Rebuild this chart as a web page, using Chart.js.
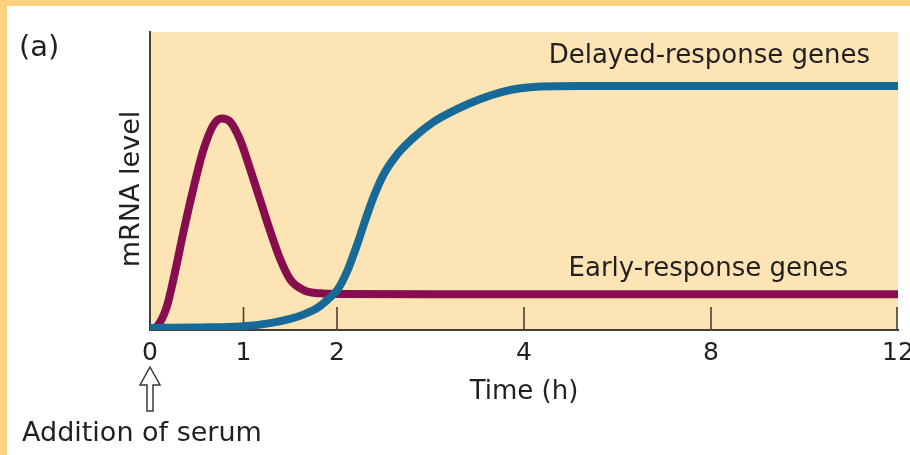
<!DOCTYPE html>
<html>
<head>
<meta charset="utf-8">
<title>mRNA level after serum addition</title>
<script src="https://cdn.jsdelivr.net/npm/chart.js@4.4.1/dist/chart.umd.min.js"></script>
<style>
  html, body { margin: 0; padding: 0; background: #fff; }
  #wrap { width: 910px; height: 455px; }
</style>
</head>
<body>
<div id="wrap"><canvas id="chart" width="910" height="455"></canvas></div>
<script>
// hours shown under the time axis (linear to 4 h, then 2 h per unit)
var tickHours = [0, 1, 2, 4, 8, 12];

// early-response genes: fast spike, then low steady level
var earlyHours = [0, 0.072, 0.179, 0.268, 0.357, 0.464, 0.571, 0.678, 0.768, 0.857, 0.964, 1.071, 1.178, 1.285, 1.392, 1.499, 1.642, 1.821, 2.035, 3, 4, 8, 12];
var earlyLevel = [0.3, 1.1, 7.8, 19.5, 32.8, 47.5, 60.4, 68.8, 71.0, 69.9, 63.8, 54.0, 43.6, 33.2, 23.8, 17.0, 13.4, 12.3, 12.1, 12, 12, 12, 12];

// delayed-response genes: slow start, sigmoid rise after ~2 h
var delayedHours = [0, 0.535, 0.964, 1.285, 1.499, 1.66, 1.789, 1.896, 2.003, 2.11, 2.217, 2.303, 2.388, 2.495, 2.645, 2.817, 3.031, 3.288, 3.534, 3.78, 3.963, 4.35, 5.21, 8, 12];
var delayedLevel = [0.7, 0.85, 1.2, 2.3, 3.7, 5.4, 7.4, 10.1, 13.4, 19.8, 28.8, 36.9, 44.4, 52.0, 59.0, 64.5, 69.8, 74.2, 77.5, 80.0, 81.1, 81.7, 81.9, 81.9, 81.9];

var FONT = "'DejaVu Sans', sans-serif";
var INK = '#231f20';
var AXIS = '#4a3f35';

function toAxis(h) { return h <= 4 ? h : 4 + (h - 4) / 2; }
function fromAxis(u) { return u <= 4 ? u : 4 + (u - 4) * 2; }

function points(hours, level) {
    return hours.map(function (h, i) { return { x: toAxis(h), y: level[i] }; });
}

var decor = {
    id: 'decor',
    beforeDraw: function (chart) {
        var ctx = chart.ctx, a = chart.chartArea;
        ctx.save();
        ctx.fillStyle = '#ffffff';
        ctx.fillRect(0, 0, chart.width, chart.height);
        ctx.fillStyle = '#fdd383';
        ctx.fillRect(0, 0, chart.width, 6);
        ctx.fillRect(0, 0, 7, chart.height);
        ctx.fillStyle = '#fce4b4';
        ctx.fillRect(a.left, a.top, a.right - a.left, a.bottom - a.top);
        ctx.restore();
    },
    beforeDatasetsDraw: function (chart) {
        // short tick marks pointing up into the plot
        var ctx = chart.ctx, a = chart.chartArea, xs = chart.scales.x;
        ctx.save();
        ctx.strokeStyle = AXIS;
        ctx.lineWidth = 1.6;
        tickHours.forEach(function (h) {
            if (h === 0) return;
            var x = Math.min(xs.getPixelForValue(toAxis(h)), a.right - 1);
            ctx.beginPath();
            ctx.moveTo(x, a.bottom - 23);
            ctx.lineTo(x, a.bottom);
            ctx.stroke();
        });
        ctx.restore();
    },
    afterDraw: function (chart) {
        var ctx = chart.ctx, a = chart.chartArea, xs = chart.scales.x;
        ctx.save();
        ctx.fillStyle = INK;
        ctx.textBaseline = 'alphabetic';

        ctx.font = '29px ' + FONT;
        ctx.textAlign = 'left';
        ctx.fillText('(a)', 19, 56);

        ctx.font = '26px ' + FONT;
        ctx.textAlign = 'right';
        ctx.fillText('Delayed-response genes', 870, 63);
        ctx.fillText('Early-response genes', 848, 276);

        ctx.textAlign = 'center';
        ctx.fillText('Time (h)', (a.left + a.right) / 2, 399);

        ctx.font = '27px ' + FONT;
        ctx.textAlign = 'left';
        ctx.fillText('Addition of serum', 22, 441);

        ctx.save();
        ctx.translate(139, 189);
        ctx.rotate(-Math.PI / 2);
        ctx.textAlign = 'center';
        ctx.fillText('mRNA level', 0, 0);
        ctx.restore();

        // hollow arrow under time zero
        var x0 = xs.getPixelForValue(0);
        ctx.beginPath();
        ctx.moveTo(x0, 367);
        ctx.lineTo(x0 + 10, 385);
        ctx.lineTo(x0 + 3, 385);
        ctx.lineTo(x0 + 3, 411);
        ctx.lineTo(x0 - 3, 411);
        ctx.lineTo(x0 - 3, 385);
        ctx.lineTo(x0 - 10, 385);
        ctx.closePath();
        ctx.fillStyle = '#ffffff';
        ctx.fill();
        ctx.strokeStyle = '#3a3a3a';
        ctx.lineWidth = 1.5;
        ctx.stroke();
        ctx.restore();
    }
};

var ctx = document.getElementById('chart').getContext('2d');
var chart = new Chart(ctx, {
    type: 'line',
    data: {
        datasets: [{
            label: 'Delayed-response genes',
            data: points(delayedHours, delayedLevel),
            borderColor: '#176a98',
            borderWidth: 8,
            pointRadius: 0,
            cubicInterpolationMode: 'monotone',
            borderCapStyle: 'round',
            borderJoinStyle: 'round',
            fill: false
        }, {
            label: 'Early-response genes',
            data: points(earlyHours, earlyLevel),
            borderColor: '#870d4f',
            borderWidth: 8,
            pointRadius: 0,
            cubicInterpolationMode: 'monotone',
            borderCapStyle: 'round',
            borderJoinStyle: 'round',
            fill: false
        }]
    },
    options: {
        responsive: false,
        animation: false,
        layout: { padding: { top: 32, left: 150, right: 12, bottom: 0 } },
        plugins: { legend: { display: false }, tooltip: { enabled: false } },
        scales: {
            x: {
                type: 'linear',
                min: 0,
                max: 8,
                afterBuildTicks: function (s) {
                    s.ticks = tickHours.map(function (h) { return { value: toAxis(h) }; });
                },
                afterFit: function (s) {
                    s.height = 125;
                    s.paddingLeft = 0;
                    s.paddingRight = 0;
                },
                ticks: {
                    autoSkip: false,
                    maxRotation: 0,
                    padding: 8,
                    color: INK,
                    font: { family: FONT, size: 25 },
                    callback: function (v) { return String(fromAxis(v)); }
                },
                grid: { display: false, drawTicks: false },
                border: { display: true, color: AXIS, width: 2 }
            },
            y: {
                min: 0,
                max: 100,
                afterFit: function (s) { s.width = 0; },
                ticks: { display: false },
                grid: { display: false, drawTicks: false },
                border: { display: true, color: AXIS, width: 2 }
            }
        }
    },
    plugins: [decor]
});
</script>
</body>
</html>
